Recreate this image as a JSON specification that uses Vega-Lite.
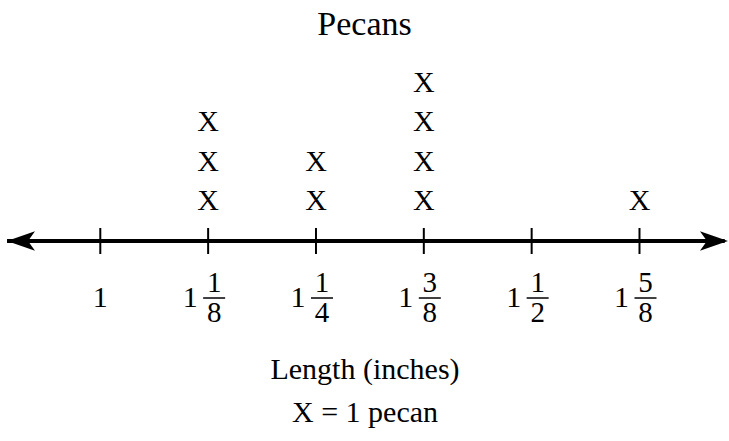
{
  "$schema": "https://vega.github.io/schema/vega-lite/v6.json",
  "autosize": {"type": "none"},
  "width": 729,
  "height": 290,
  "padding": {"top": 50, "bottom": 101, "left": 0, "right": 0},
  "background": "white",
  "config": {
    "view": {"stroke": null},
    "font": "Liberation Serif"
  },
  "title": {
    "text": "Pecans",
    "font": "Liberation Serif",
    "fontSize": 34,
    "fontWeight": "normal",
    "color": "black",
    "anchor": "middle",
    "frame": "group",
    "offset": 8
  },
  "datasets": {
    "pecans": [
      {"length": 1.125, "level": 1},
      {"length": 1.125, "level": 2},
      {"length": 1.125, "level": 3},
      {"length": 1.25, "level": 1},
      {"length": 1.25, "level": 2},
      {"length": 1.375, "level": 1},
      {"length": 1.375, "level": 2},
      {"length": 1.375, "level": 3},
      {"length": 1.375, "level": 4},
      {"length": 1.625, "level": 1}
    ],
    "marks": [
      {"value": 1.0, "whole": "1", "num": "", "den": ""},
      {"value": 1.125, "whole": "1", "num": "1", "den": "8"},
      {"value": 1.25, "whole": "1", "num": "1", "den": "4"},
      {"value": 1.375, "whole": "1", "num": "3", "den": "8"},
      {"value": 1.5, "whole": "1", "num": "1", "den": "2"},
      {"value": 1.625, "whole": "1", "num": "5", "den": "8"}
    ],
    "line": [
      {"start": 0.8919, "end": 1.7238}
    ],
    "arrows": [
      {"at": 0.9081, "dir": "left"},
      {"at": 1.7113, "dir": "right"}
    ]
  },
  "encoding": {
    "x": {
      "type": "quantitative",
      "scale": {"domain": [0.88375, 1.72875], "nice": false, "zero": false},
      "axis": {
        "title": ["Length (inches)", "X = 1 pecan"],
        "titleFont": "Liberation Serif",
        "titleFontSize": 30,
        "titleFontWeight": "normal",
        "titleColor": "black",
        "titleLineHeight": 43,
        "titlePadding": 14,
        "labels": false,
        "ticks": false,
        "domain": false,
        "grid": false
      }
    },
    "y": {
      "type": "quantitative",
      "scale": {"domain": [-2.506, 4.835], "nice": false, "zero": false},
      "axis": null
    }
  },
  "layer": [
    {
      "data": {"name": "line"},
      "mark": {"type": "rule", "color": "black", "strokeWidth": 4},
      "encoding": {
        "x": {"field": "start"},
        "x2": {"field": "end"},
        "y": {"datum": 0}
      }
    },
    {
      "data": {"name": "arrows"},
      "transform": [{"filter": "datum.dir === 'right'"}],
      "mark": {
        "type": "point",
        "shape": "M1,0 L-1,-0.7 L-0.5,0 L-1,0.7 Z",
        "filled": true,
        "color": "black",
        "opacity": 1,
        "size": 784
      },
      "encoding": {
        "x": {"field": "at"},
        "y": {"datum": 0}
      }
    },
    {
      "data": {"name": "arrows"},
      "transform": [{"filter": "datum.dir === 'left'"}],
      "mark": {
        "type": "point",
        "shape": "M-1,0 L1,-0.7 L0.5,0 L1,0.7 Z",
        "filled": true,
        "color": "black",
        "opacity": 1,
        "size": 784
      },
      "encoding": {
        "x": {"field": "at"},
        "y": {"datum": 0}
      }
    },
    {
      "data": {"name": "marks"},
      "mark": {"type": "tick", "orient": "vertical", "color": "black", "size": 26, "thickness": 2, "opacity": 1},
      "encoding": {
        "x": {"field": "value"},
        "y": {"datum": 0}
      }
    },
    {
      "data": {"name": "marks"},
      "transform": [{"filter": "datum.num === ''"}],
      "mark": {"type": "text", "font": "Liberation Serif", "fontSize": 30, "color": "black", "baseline": "middle", "align": "center"},
      "encoding": {
        "x": {"field": "value"},
        "y": {"datum": -1.443},
        "text": {"field": "whole"}
      }
    },
    {
      "data": {"name": "marks"},
      "transform": [{"filter": "datum.num !== ''"}],
      "mark": {"type": "text", "font": "Liberation Serif", "fontSize": 30, "color": "black", "baseline": "middle", "align": "center", "dx": -18},
      "encoding": {
        "x": {"field": "value"},
        "y": {"datum": -1.443},
        "text": {"field": "whole"}
      }
    },
    {
      "data": {"name": "marks"},
      "transform": [{"filter": "datum.num !== ''"}],
      "mark": {"type": "text", "font": "Liberation Serif", "fontSize": 29, "color": "black", "baseline": "middle", "align": "center", "dx": 6, "dy": -15},
      "encoding": {
        "x": {"field": "value"},
        "y": {"datum": -1.443},
        "text": {"field": "num"}
      }
    },
    {
      "data": {"name": "marks"},
      "transform": [{"filter": "datum.num !== ''"}],
      "mark": {"type": "text", "font": "Liberation Serif", "fontSize": 29, "color": "black", "baseline": "middle", "align": "center", "dx": 6, "dy": 15},
      "encoding": {
        "x": {"field": "value"},
        "y": {"datum": -1.443},
        "text": {"field": "den"}
      }
    },
    {
      "data": {"name": "marks"},
      "transform": [{"filter": "datum.num !== ''"}],
      "mark": {"type": "tick", "orient": "horizontal", "color": "black", "size": 22, "thickness": 1.5, "opacity": 1, "xOffset": 6},
      "encoding": {
        "x": {"field": "value"},
        "y": {"datum": -1.443}
      }
    },
    {
      "data": {"name": "pecans"},
      "mark": {"type": "text", "font": "Liberation Serif", "fontSize": 30, "color": "black", "baseline": "middle", "align": "center", "text": "X"},
      "encoding": {
        "x": {"field": "length"},
        "y": {"field": "level"}
      }
    }
  ]
}
